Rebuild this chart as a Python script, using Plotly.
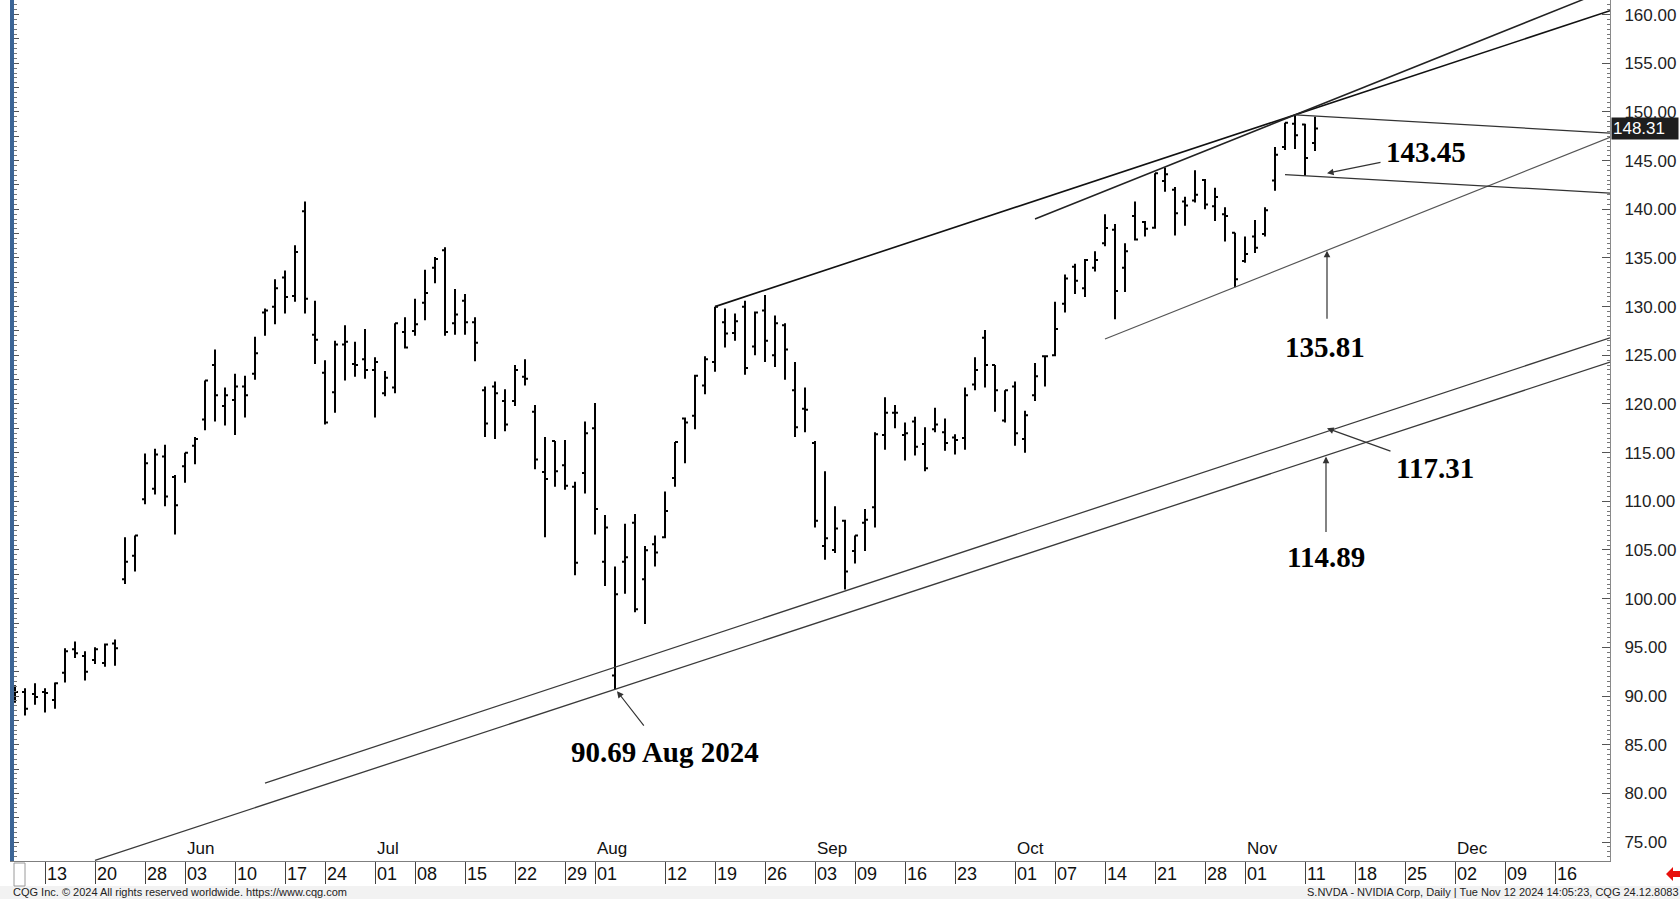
import pandas as pd
import plotly.graph_objects as go

# ---------------- data ----------------
holidays = ["2024-05-27", "2024-06-19", "2024-07-04", "2024-09-02"]
first_day = "2024-05-13"  # index 0

opens = [
    89.6, 90.4, 90.2, 90.4, 89.6, 92.4, 94.8, 94.1, 93.7, 93.4, 95.4, 102.0, 104.4, 110.2, 111.3, 114.6, 112.5,
    113.6, 115.7, 118.4, 124.0, 119.8, 120.4, 121.8, 123.1, 129.4, 130.0, 133.0, 131.1, 139.8, 127.1, 123.2, 121.2, 126.1, 124.1, 124.6,
    123.5, 121.1, 121.7, 127.4, 127.5, 130.4, 134.0, 135.8, 128.3, 130.6, 128.4, 121.4, 121.8, 120.3, 120.3, 122.8, 119.2, 113.0, 116.2, 113.7, 111.5, 112.9,
    117.5, 103.8, 92.1, 103.8, 107.8, 102.0, 105.6, 106.3, 112.4, 118.5, 118.8, 121.9, 124.3, 128.4, 127.3, 130.0, 125.9, 129.6, 125.0, 128.1, 121.4, 119.5,
    116.0, 105.4, 105.0, 108.0, 104.9, 107.8, 109.4, 116.8, 119.1, 116.8, 118.2, 115.9, 117.4, 117.1, 116.55, 116.5, 122.0, 126.8, 124.0, 118.3,
    121.8, 116.4, 120.9, 124.9, 125.0, 130.3, 134.1, 131.9, 134.0, 136.5, 137.9, 134.0, 139.3, 138.7, 138.1, 142.9, 142.0, 140.8, 140.9, 143.0, 140.3, 139.5, 137.6,
    134.7, 137.2, 137.45, 142.96, 146.4, 148.8, 148.7, 146.8,
]
highs = [
    91.1, 90.8, 91.3, 90.8, 91.4, 94.9, 95.6, 94.6, 95.0, 95.4, 95.8, 106.3, 106.5, 114.9, 115.4, 115.8, 112.7,
    115.0, 116.6, 122.4, 125.6, 121.7, 123.1, 122.9, 126.9, 129.8, 132.8, 133.7, 136.3, 140.8, 130.6, 124.5, 126.5, 128.1, 126.4, 127.7,
    124.8, 123.4, 128.3, 128.9, 130.8, 133.8, 135.1, 136.1, 131.8, 131.3, 128.9, 121.8, 122.3, 121.5, 124.0, 124.6, 119.9, 116.6, 116.2, 116.3, 112.0, 118.2,
    120.1, 108.6, 103.3, 107.7, 108.7, 105.4, 106.5, 111.0, 116.1, 118.6, 123.0, 124.9, 130.0, 129.8, 129.3, 130.6, 129.5, 131.2, 129.1, 128.3, 124.3, 121.7,
    116.2, 113.1, 109.5, 108.1, 106.5, 109.2, 117.1, 120.7, 119.9, 118.1, 118.7, 117.6, 119.6, 118.5, 116.9, 121.7, 124.8, 127.6, 124.0, 121.4,
    122.3, 119.3, 124.2, 124.9, 130.5, 133.3, 134.4, 134.9, 135.7, 139.5, 138.5, 136.5, 140.8, 138.8, 143.7, 144.3, 142.3, 141.3, 144.0, 143.1, 142.2, 140.2, 137.6,
    137.2, 138.9, 140.2, 146.4, 148.9, 149.7, 148.8, 149.5,
]
lows = [
    89.3, 88.0, 89.1, 88.3, 88.7, 91.4, 93.9, 91.6, 93.3, 93.0, 93.1, 101.5, 102.8, 109.7, 110.7, 109.5, 106.6,
    111.9, 113.8, 117.3, 118.2, 117.8, 116.8, 118.6, 122.5, 127.0, 128.2, 129.3, 130.5, 129.3, 124.1, 117.9, 119.1, 122.4, 122.8, 122.6,
    118.6, 120.8, 121.1, 125.7, 127.0, 128.6, 132.4, 127.0, 127.1, 127.1, 124.4, 116.6, 116.4, 117.2, 119.8, 121.9, 113.3, 106.3, 111.5, 111.2, 102.4, 110.8,
    106.6, 101.3, 90.69, 100.5, 98.6, 97.4, 103.3, 106.2, 111.5, 113.9, 117.4, 121.0, 123.3, 125.8, 126.5, 123.0, 125.0, 124.3, 123.8, 122.5, 116.6, 117.1,
    107.3, 104.0, 104.7, 100.95, 103.6, 104.9, 107.3, 115.3, 117.5, 114.2, 114.7, 113.1, 117.1, 115.2, 114.8, 115.3, 121.4, 121.7, 119.2, 118.1,
    115.7, 115.0, 120.3, 121.8, 124.9, 129.4, 131.3, 131.0, 133.6, 136.2, 128.7, 131.5, 136.8, 137.2, 138.0, 141.8, 137.3, 138.3, 140.7, 140.0, 138.8, 136.7, 132.0,
    134.5, 135.5, 137.2, 141.9, 146.1, 146.2, 143.45, 146.0,
]
closes = [
    90.4, 88.7, 89.9, 90.3, 91.3, 94.6, 94.4, 92.5, 94.8, 95.3, 94.9, 103.8, 106.5, 113.9, 114.8, 110.5, 109.6,
    115.0, 116.4, 122.4, 120.9, 120.9, 121.8, 120.9, 125.2, 129.6, 131.9, 131.0, 135.6, 130.8, 126.6, 118.1, 126.1, 126.4, 124.0, 123.5,
    124.3, 122.7, 128.3, 125.8, 128.2, 131.4, 134.9, 127.4, 129.2, 128.4, 126.3, 118.0, 121.1, 117.9, 123.5, 122.6, 114.3, 112.3, 113.1, 111.6, 103.7, 117.0,
    109.2, 107.3, 100.45, 104.25, 98.9, 104.97, 104.75, 109.0, 116.1, 118.1, 122.9, 124.6, 130.0, 127.25, 128.5, 123.7, 129.4, 126.5, 128.3, 125.6, 117.6, 119.4,
    108.0, 106.2, 107.2, 102.8, 106.5, 108.1, 116.9, 119.1, 119.1, 117.0, 115.6, 113.4, 117.9, 116.0, 116.3, 120.9, 123.5, 124.0, 121.4, 121.4,
    117.0, 118.85, 122.85, 124.9, 127.7, 132.9, 132.65, 134.8, 134.8, 138.07, 131.6, 135.7, 136.9, 138.0, 143.7, 143.6, 139.6, 140.4, 141.5, 140.5, 141.25, 139.3, 132.8,
    135.4, 136.05, 139.9, 145.6, 148.9, 147.6, 145.26, 148.31,
]
last_price = 148.31

tick_dates = ["2024-05-13", "2024-05-20", "2024-05-28", "2024-06-03", "2024-06-10", "2024-06-17", "2024-06-24",
              "2024-07-01", "2024-07-08", "2024-07-15", "2024-07-22", "2024-07-29", "2024-08-01", "2024-08-12",
              "2024-08-19", "2024-08-26", "2024-09-03", "2024-09-09", "2024-09-16", "2024-09-23", "2024-10-01",
              "2024-10-07", "2024-10-14", "2024-10-21", "2024-10-28", "2024-11-01", "2024-11-11", "2024-11-18",
              "2024-11-25", "2024-12-02", "2024-12-09", "2024-12-16"]
tick_labels = ["13", "20", "28", "03", "10", "17", "24", "01", "08", "15", "22", "29", "01", "12", "19", "26",
               "03", "09", "16", "23", "01", "07", "14", "21", "28", "01", "11", "18", "25", "02", "09", "16"]
month_dates = ["2024-06-03", "2024-07-01", "2024-08-01", "2024-09-03", "2024-10-01", "2024-11-01", "2024-12-02"]
month_labels = ["Jun", "Jul", "Aug", "Sep", "Oct", "Nov", "Dec"]

# trend lines: (x0 index, price0, x1 index, price1, color, width)
trendlines = [
    (67, 130.0, 156.5, 160.4, "#111111", 1.6),
    (99, 139.0, 156.5, 162.66, "#222222", 1.5),
    (106, 126.67, 156.5, 147.4, "#555555", 1.2),
    (125, 149.7, 156.5, 147.83, "#333333", 1.2),
    (124, 143.56, 156.5, 141.67, "#333333", 1.2),
    (22, 81.06, 156.5, 126.8, "#3a3a3a", 1.3),
    (5, 73.12, 156.5, 124.3, "#3a3a3a", 1.3),
]
# arrows: tip (x, price) <- tail (x, price)
arrows = [
    (57.2, 90.5, 60.0, 86.8),
    (128.2, 135.75, 128.2, 128.6),
    (128.2, 143.7, 133.7, 144.85),
    (128.2, 117.5, 134.7, 115.1),
    (128.1, 114.6, 128.1, 106.7),
]
labels = [
    ("90.69 Aug 2024", 62.0, 84.2),
    ("135.81", 128.0, 125.85),
    ("143.45", 138.1, 145.9),
    ("117.31", 139.0, 113.4),
    ("114.89", 128.1, 104.3),
]

# ---------------- calendar -> index ----------------
past = [d for d in pd.bdate_range("2024-05-08", "2024-11-12") if d.strftime("%Y-%m-%d") not in holidays]
future = list(pd.bdate_range("2024-11-13", "2024-12-31"))
all_days = [d.strftime("%Y-%m-%d") for d in past + future]
offset = all_days.index(first_day)
idx_of = {d: i - offset for i, d in enumerate(all_days)}
x_bars = [idx_of[d.strftime("%Y-%m-%d")] for d in past]
assert len(x_bars) == len(opens) == len(highs) == len(lows) == len(closes)

X_RANGE = [-3.1, 156.5]
Y_RANGE = [73.05, 161.5]

fig = go.Figure()
fig.add_trace(go.Ohlc(
    x=x_bars, open=opens, high=highs, low=lows, close=closes,
    increasing=dict(line=dict(color="#000000", width=2)),
    decreasing=dict(line=dict(color="#000000", width=2)),
    tickwidth=0.3, hoverinfo="skip", showlegend=False,
))
for x0, y0, x1, y1, col, w in trendlines:
    fig.add_trace(go.Scatter(x=[x0, x1], y=[y0, y1], mode="lines",
                             line=dict(color=col, width=w), hoverinfo="skip", showlegend=False))
# dummy trace for the left axis
fig.add_trace(go.Scatter(x=[None], y=[None], yaxis="y2", showlegend=False, hoverinfo="skip"))

ann = []
for tx, ty, sx, sy in arrows:
    ann.append(dict(x=tx, y=ty, ax=sx, ay=sy, xref="x", yref="y", axref="x", ayref="y",
                    text="", showarrow=True, arrowhead=2, arrowsize=1.1, arrowwidth=1.2,
                    arrowcolor="#333333", standoff=0))
for t, lx, ly in labels:
    ann.append(dict(x=lx, y=ly, xref="x", yref="y", text="<b>%s</b>" % t, showarrow=False,
                    font=dict(family="Liberation Serif", size=29, color="#000000")))
for d, lab in zip(tick_dates, tick_labels):
    ann.append(dict(x=idx_of[d], y=0, xref="x", yref="paper", text=lab, showarrow=False,
                    xanchor="left", yanchor="top", xshift=0, yshift=-1,
                    font=dict(family="Liberation Sans", size=18, color="#111111")))
for d, lab in zip(month_dates, month_labels):
    ann.append(dict(x=idx_of[d], y=0, xref="x", yref="paper", text=lab, showarrow=False,
                    xanchor="left", yanchor="bottom", xshift=0, yshift=1,
                    font=dict(family="Liberation Sans", size=17, color="#111111")))
# last price box
ann.append(dict(x=1, y=last_price, xref="paper", yref="y", text="%.2f" % last_price, showarrow=False,
                xanchor="left", xshift=1, bgcolor="#1e1e1e", borderpad=1, width=64, align="left",
                font=dict(family="Liberation Sans", size=17, color="#ffffff")))
# footer texts
PW, PH = 1596.0, 861.0
def px(x):
    return (x - 14) / PW
def py(y):
    return (861 - y) / PH
ann.append(dict(x=px(12), y=py(899), xref="paper", yref="paper", showarrow=False, xanchor="left", yanchor="bottom",
                text="CQG Inc. © 2024 All rights reserved worldwide. https://www.cqg.com", borderpad=0,
                font=dict(family="Liberation Sans", size=11, color="#222222")))
ann.append(dict(x=px(1680), y=py(899), xref="paper", yref="paper", showarrow=False, xanchor="right", yanchor="bottom",
                text="S.NVDA - NVIDIA Corp, Daily | Tue Nov 12 2024 14:05:23, CQG 24.12.8083", borderpad=0,
                font=dict(family="Liberation Sans", size=11, color="#222222")))

shapes = [
    dict(type="rect", xref="paper", yref="paper", x0=px(0), x1=px(1680), y0=py(886), y1=py(899),
         fillcolor="#f2f2f2", line=dict(width=0), layer="below"),
    dict(type="rect", xref="paper", yref="paper", x0=px(14), x1=px(25), y0=py(886), y1=py(863),
         fillcolor="rgba(0,0,0,0)", line=dict(color="#9a9a9a", width=1)),
    dict(type="path", xref="paper", yref="paper",
         path="M %f %f L %f %f L %f %f L %f %f L %f %f L %f %f L %f %f Z" % (
             px(1666), py(874), px(1673), py(867), px(1673), py(871), px(1681), py(871),
             px(1681), py(877), px(1673), py(877), px(1673), py(881)),
         fillcolor="#e8100c", line=dict(width=0)),
]

fig.update_layout(
    width=1680, height=899,
    margin=dict(l=14, r=70, t=0, b=38),
    paper_bgcolor="#ffffff", plot_bgcolor="#ffffff",
    showlegend=False, hovermode=False,
    xaxis=dict(range=X_RANGE, rangeslider=dict(visible=False), showgrid=False, zeroline=False,
               tickmode="array", tickvals=[idx_of[d] for d in tick_dates], ticks="outside",
               ticklen=22, tickwidth=1, tickcolor="#444444", showticklabels=False,
               showline=True, linecolor="#7f7f7f", linewidth=1),
    yaxis=dict(range=Y_RANGE, side="right", showgrid=False, zeroline=False,
               tickmode="linear", tick0=75, dtick=5, tickformat=".2f",
               ticks="inside", ticklen=8, tickcolor="#555555",
               minor=dict(dtick=0.5, ticks="inside", ticklen=3, tickcolor="#777777"),
               showline=True, linecolor="#8a8a8a", linewidth=1, ticklabelstandoff=10,
               tickfont=dict(family="Liberation Sans", size=17, color="#222222")),
    yaxis2=dict(range=Y_RANGE, overlaying="y", side="left", showgrid=False, zeroline=False,
                tickmode="linear", tick0=75, dtick=2.5, ticks="inside", ticklen=5, tickcolor="#555555",
                minor=dict(dtick=0.5, ticks="inside", ticklen=3, tickcolor="#777777"),
                showticklabels=False, showline=True, linecolor="#3c6596", linewidth=4),
    annotations=ann, shapes=shapes,
)

fig.write_html("out.html", config={"displayModeBar": False},
               post_script="document.body.style.margin='0';document.body.style.overflow='hidden';")
